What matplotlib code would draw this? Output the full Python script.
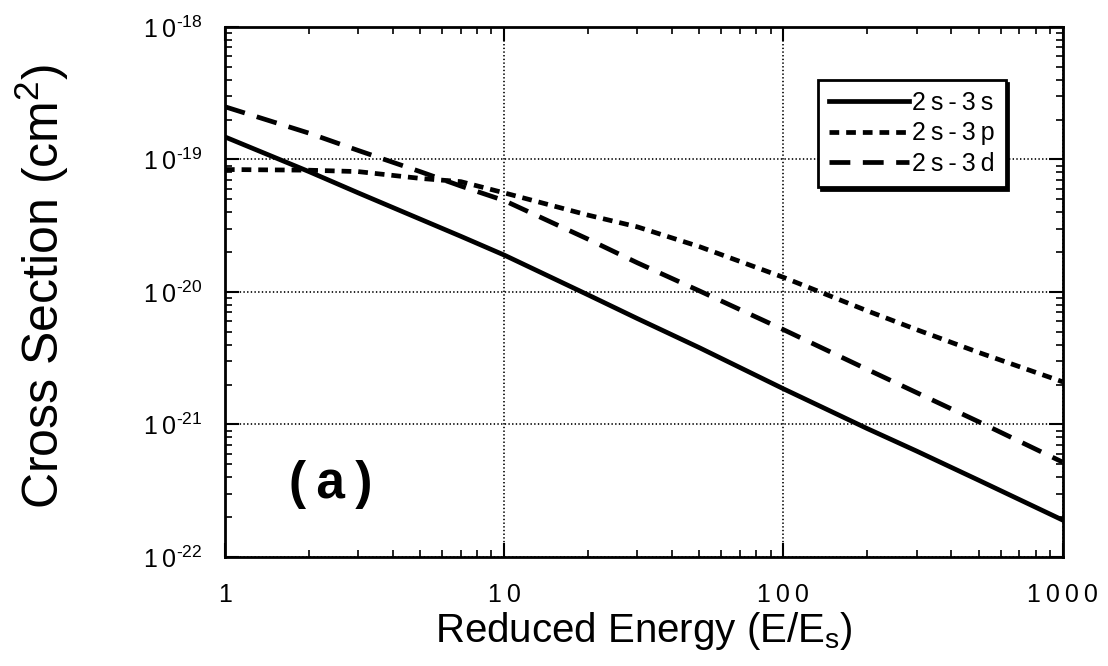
import numpy as np
import matplotlib
matplotlib.use('Agg')
import matplotlib.pyplot as plt
from matplotlib.ticker import LogLocator, NullFormatter, FixedLocator

plt.rcParams['font.family'] = ['Liberation Sans', 'DejaVu Sans']
plt.rcParams['mathtext.fontset'] = 'custom'
plt.rcParams['mathtext.rm'] = 'Liberation Sans'
plt.rcParams['mathtext.it'] = 'Liberation Sans:italic'
plt.rcParams['mathtext.bf'] = 'Liberation Sans:bold'
plt.rcParams['lines.scale_dashes'] = False

# reduced energy E/Es
energy = [1, 2, 3, 5, 7, 10, 20, 30, 50, 100, 200, 300, 500, 1000]

# cross sections (cm^2)
xs_3s = [1.48e-19, 8.1e-20, 5.6e-20, 3.55e-20, 2.63e-20, 1.9e-20, 9.5e-21,
         6.3e-21, 3.8e-21, 1.86e-21, 9.3e-22, 6.3e-22, 3.8e-22, 1.9e-22]
xs_3p = [8.4e-20, 8.3e-20, 8.1e-20, 7.2e-20, 6.8e-20, 5.6e-20, 3.8e-20,
         3.1e-20, 2.2e-20, 1.29e-20, 7.2e-21, 5.2e-21, 3.5e-21, 2.1e-21]
xs_3d = [2.5e-19, 1.58e-19, 1.17e-19, 8.1e-20, 6.3e-20, 4.9e-20, 2.5e-20,
         1.66e-20, 1.02e-20, 5.2e-21, 2.6e-21, 1.74e-21, 1.05e-21, 5.2e-22]

T = '\u2009'  # thin space, the original is letter-spaced
labels = [T.join('2s-3s'), T.join('2s-3p'), T.join('2s-3d')]
xticks = [1, 10, 100, 1000]
xtick_labels = [T.join(str(v)) for v in xticks]
yexps = [-22, -21, -20, -19, -18]
yticks = [10.0 ** e for e in yexps]
ytick_labels = ['1' + T + '0$^{\u2010' + str(-e) + '}$' for e in yexps]

fig = plt.figure(figsize=(11.08, 6.66), dpi=100)
ax = fig.add_axes([0.203, 0.1637, 0.756, 0.7958])

ax.plot(energy, xs_3s, color='black', lw=3.4, label=labels[0])
ax.plot(energy, xs_3p, color='black', lw=3.4, dashes=(7, 5), label=labels[1])
ax.plot(energy, xs_3d, color='black', lw=3.4, dashes=(15, 9), label=labels[2])

ax.set_xscale('log')
ax.set_yscale('log')
ax.set_xlim(1, 1000)
ax.set_ylim(1e-22, 1e-18)

ax.xaxis.set_major_locator(FixedLocator(xticks))
ax.set_xticklabels(xtick_labels)
ax.yaxis.set_major_locator(FixedLocator(yticks))
ax.set_yticklabels(ytick_labels)
ax.xaxis.set_minor_locator(LogLocator(base=10, subs=np.arange(2, 10)))
ax.yaxis.set_minor_locator(LogLocator(base=10, subs=np.arange(2, 10)))
ax.xaxis.set_minor_formatter(NullFormatter())
ax.yaxis.set_minor_formatter(NullFormatter())

ax.tick_params(which='both', direction='in', top=True, right=True, colors='black')
ax.tick_params(which='major', length=10, width=1.5, labelsize=18)
ax.tick_params(axis='x', which='major', pad=19)
ax.tick_params(axis='y', which='major', pad=16)
ax.tick_params(which='minor', length=5, width=1.2)
ax.grid(True, which='major', color='black', linestyle=':', lw=1.2)
for s in ax.spines.values():
    s.set_linewidth(2)

ax.set_xlabel('Reduced Energy (E/E$_{\\mathregular{s}}$)', fontsize=29)
ax.xaxis.set_label_coords(0.5, -0.1)
ax.set_ylabel('Cross Section (cm$^{\\mathregular{2}}$)', fontsize=36)
ax.yaxis.set_label_coords(-0.184, 0.51)

ax.text(0.1265, 0.136, '(' + T + 'a' + T + ')', transform=ax.transAxes, fontsize=37,
        fontweight='bold', ha='center', va='center')

leg = ax.legend(loc='upper right', bbox_to_anchor=(0.932, 0.9), fontsize=18,
                handlelength=3.2, handletextpad=0.1, labelspacing=0.25,
                borderpad=0.45, borderaxespad=0, fancybox=False,
                shadow={'color': 'black', 'alpha': 1},
                framealpha=1, edgecolor='black')
leg.get_frame().set_linewidth(2)

fig.savefig('out.png', dpi=100)
